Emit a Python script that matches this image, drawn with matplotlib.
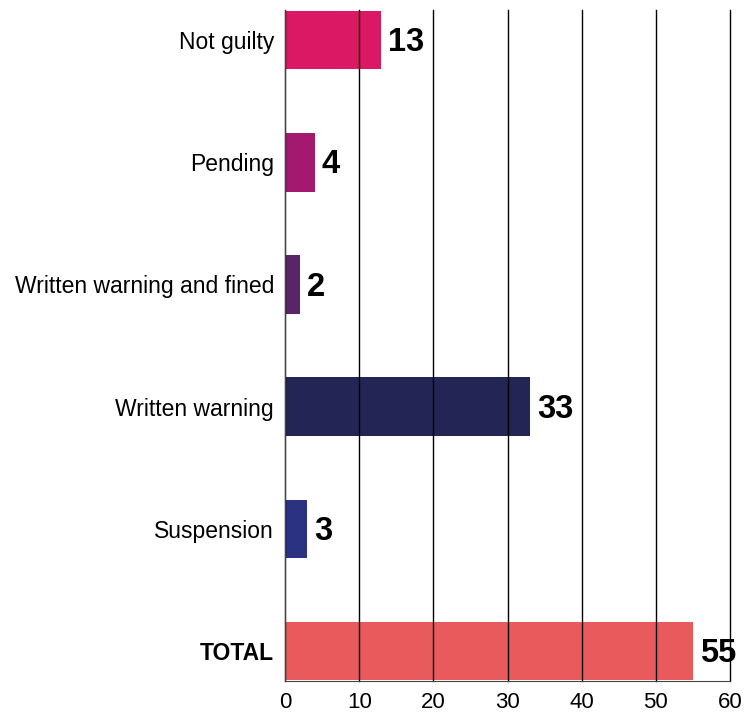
import matplotlib.pyplot as plt

plt.rcParams["font.family"] = ["Liberation Sans", "DejaVu Sans"]

# ---------- data ----------
categories = ["Not guilty", "Pending", "Written warning and fined",
              "Written warning", "Suspension", "TOTAL"]
counts = [13, 4, 2, 33, 3, 55]
colors = ["#DB1863", "#A2196F", "#59246A", "#232654", "#2B3282", "#E85A5C"]
x_ticks = [0, 10, 20, 30, 40, 50, 60]

# ---------- plot ----------
fig = plt.figure(figsize=(7.45, 7.18), dpi=100)
ax = fig.add_axes([0.3826, 0.0515, 0.5973, 0.9345])

pos = list(range(len(categories)))
ax.barh(pos, counts, height=0.48, color=colors, zorder=1)

# value labels just past the end of each bar
for p, v in zip(pos, counts):
    ax.annotate(str(v), (v, p), xytext=(5, -2), textcoords="offset points",
                ha="left", va="center", fontsize=23.5, fontweight="bold")

ax.set_xlim(0, 60)
ax.set_ylim(5.245, -0.245)
ax.set_xticks(x_ticks)
ax.set_yticks(pos)
ax.set_yticklabels(categories)
for lbl in ax.get_yticklabels():
    if lbl.get_text() == "TOTAL":
        lbl.set_fontweight("bold")

ax.xaxis.grid(True, color="black", linewidth=1)
for g in ax.get_xgridlines():
    g.set_zorder(2)
    g.set_clip_on(False)

ax.tick_params(axis="both", length=0)
ax.tick_params(axis="x", pad=8, labelsize=16)
ax.tick_params(axis="y", pad=8, labelsize=16.5)

for side in ["top", "right"]:
    ax.spines[side].set_visible(False)
ax.spines["left"].set_color("#444444")
ax.spines["bottom"].set_color("#444444")

fig.savefig("out.png", dpi=100)
